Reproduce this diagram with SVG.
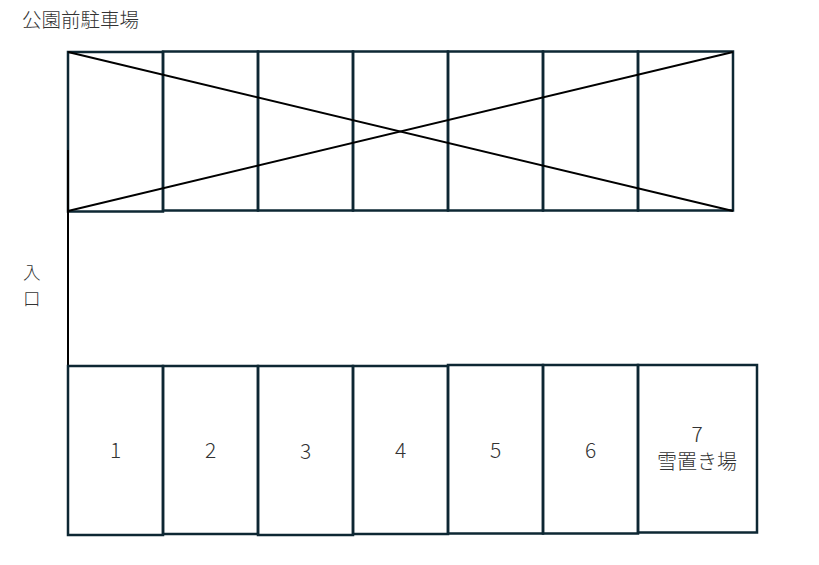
<svg xmlns="http://www.w3.org/2000/svg" width="819" height="565" viewBox="0 0 819 565">
<style>
.cell{fill:none;stroke:#0d2733;stroke-width:2.5}
.ln{fill:none;stroke:#000;stroke-width:2}
.t{font-family:"Noto Sans CJK JP","Liberation Sans",sans-serif;font-size:20px;font-weight:300;fill:#333;text-anchor:middle}
.n{font-size:21px}
.tl{font-family:"Noto Sans CJK JP","Liberation Sans",sans-serif;font-size:19.5px;font-weight:300;fill:#333}
.e{font-size:17.5px}
</style>
<rect width="819" height="565" fill="#fff"/>
<text class="tl" x="22" y="27">公園前駐車場</text>
<g id="entrance-label">
<text class="tl e" x="23" y="278.5">入</text>
<text class="tl e" x="23" y="304.5">口</text>
</g>
<g id="top-row">
<rect id="top1" class="cell" x="68" y="52" width="95" height="159.5"/>
<rect id="top2" class="cell" x="163" y="51.5" width="95" height="159"/>
<rect id="top3" class="cell" x="258" y="51.5" width="95" height="159"/>
<rect id="top4" class="cell" x="353" y="51.5" width="95" height="159"/>
<rect id="top5" class="cell" x="448" y="51.5" width="95" height="159"/>
<rect id="top6" class="cell" x="543" y="51.5" width="95" height="159"/>
<rect id="top7" class="cell" x="638" y="51.5" width="95" height="159"/>
</g>
<g id="connectors">
<line class="ln" x1="68" y1="52" x2="733" y2="211"/>
<line class="ln" x1="68" y1="211" x2="733" y2="52"/>
<line class="ln" x1="68" y1="150" x2="68" y2="402" stroke-width="2.5"/>
</g>
<g id="slot1"><rect class="cell" x="68" y="366" width="95" height="169"/><text class="t n" x="115.5" y="458">1</text></g>
<g id="slot2"><rect class="cell" x="163" y="366" width="95" height="168"/><text class="t n" x="210.5" y="458">2</text></g>
<g id="slot3"><rect class="cell" x="258" y="366" width="95" height="169"/><text class="t n" x="305.5" y="459">3</text></g>
<g id="slot4"><rect class="cell" x="353" y="366" width="95" height="168"/><text class="t n" x="400.5" y="458">4</text></g>
<g id="slot5"><rect class="cell" x="448" y="365" width="95" height="168.5"/><text class="t n" x="495.5" y="458">5</text></g>
<g id="slot6"><rect class="cell" x="543" y="365" width="95" height="168.5"/><text class="t n" x="590.5" y="458">6</text></g>
<g id="slot7"><rect class="cell" x="638" y="365" width="119" height="167.5"/><text class="t n" x="697" y="442">7</text><text class="t" x="697" y="469">雪置き場</text></g>
</svg>
